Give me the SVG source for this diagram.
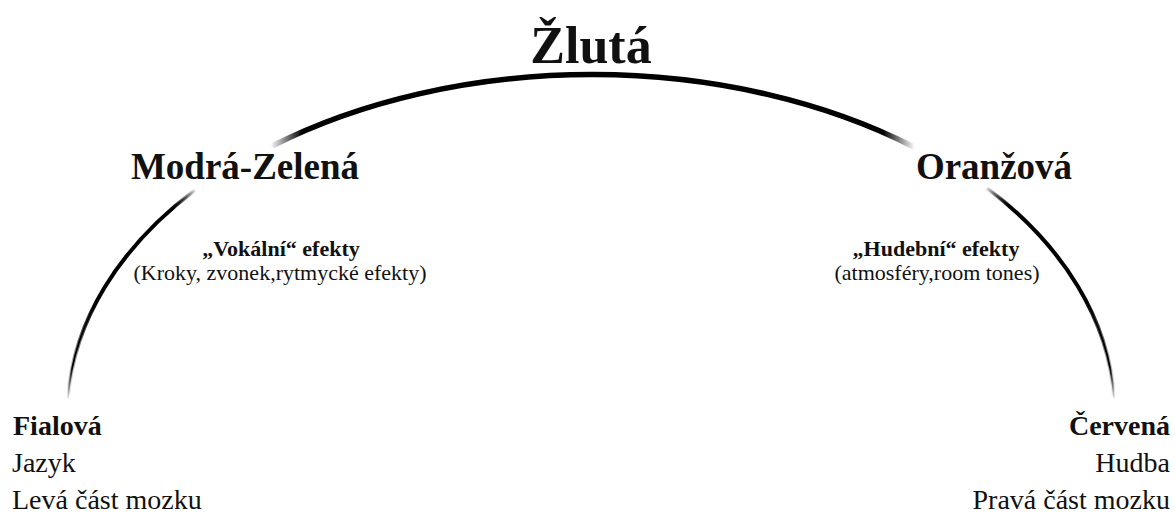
<svg xmlns="http://www.w3.org/2000/svg" width="1175" height="513" viewBox="0 0 1175 513">
<style>
text{font-family:"Liberation Serif","Times New Roman",serif;fill:#111;}
.h{font-weight:bold;font-size:37px;text-anchor:middle;}
.t{font-weight:bold;font-size:52px;text-anchor:middle;}
.sb{font-weight:bold;font-size:22px;text-anchor:middle;}
.sr{font-size:22px;text-anchor:middle;}
.cb{font-weight:bold;font-size:28px;}
.cr{font-size:28px;}
.arc{fill:none;stroke-linecap:butt;}
</style>
<defs>
<linearGradient id="gTop" gradientUnits="userSpaceOnUse" x1="270" y1="0" x2="915" y2="0">
<stop offset="0" stop-color="#000" stop-opacity="0"/>
<stop offset="0.05" stop-color="#000" stop-opacity="1"/>
<stop offset="0.95" stop-color="#000" stop-opacity="1"/>
<stop offset="1" stop-color="#000" stop-opacity="0"/>
</linearGradient>
<linearGradient id="gLa" gradientUnits="userSpaceOnUse" x1="68" y1="398" x2="195" y2="188">
<stop offset="0" stop-color="#000" stop-opacity="0"/>
<stop offset="0.4" stop-color="#000" stop-opacity="1"/>
<stop offset="0.88" stop-color="#000" stop-opacity="1"/>
<stop offset="1" stop-color="#000" stop-opacity="0"/>
</linearGradient>
<linearGradient id="gLb" gradientUnits="userSpaceOnUse" x1="68" y1="398" x2="195" y2="188">
<stop offset="0" stop-color="#000" stop-opacity="0.1"/>
<stop offset="0.12" stop-color="#000" stop-opacity="1"/>
<stop offset="0.88" stop-color="#000" stop-opacity="1"/>
<stop offset="1" stop-color="#000" stop-opacity="0"/>
</linearGradient>
<linearGradient id="gRa" gradientUnits="userSpaceOnUse" x1="1114" y1="398" x2="986" y2="186">
<stop offset="0" stop-color="#000" stop-opacity="0"/>
<stop offset="0.4" stop-color="#000" stop-opacity="1"/>
<stop offset="0.88" stop-color="#000" stop-opacity="1"/>
<stop offset="1" stop-color="#000" stop-opacity="0"/>
</linearGradient>
<linearGradient id="gRb" gradientUnits="userSpaceOnUse" x1="1114" y1="398" x2="986" y2="186">
<stop offset="0" stop-color="#000" stop-opacity="0.1"/>
<stop offset="0.12" stop-color="#000" stop-opacity="1"/>
<stop offset="0.88" stop-color="#000" stop-opacity="1"/>
<stop offset="1" stop-color="#000" stop-opacity="0"/>
</linearGradient>
</defs>
<rect width="1175" height="513" fill="#fff"/>
<g id="connectors">
<path class="arc" d="M272 146 A524 343 0 0 1 914 147" stroke="url(#gTop)" stroke-width="5.5"/>
<path class="arc" d="M68 398 A524 343 0 0 1 195 190" stroke="url(#gLa)" stroke-width="4"/>
<path class="arc" d="M68 398 A524 343 0 0 1 195 190" stroke="url(#gLb)" stroke-width="1.8"/>
<path class="arc" d="M987 188 A524 343 0 0 1 1114 398" stroke="url(#gRa)" stroke-width="4"/>
<path class="arc" d="M987 188 A524 343 0 0 1 1114 398" stroke="url(#gRb)" stroke-width="1.8"/>
</g>
<g id="zluta"><text class="t" x="591" y="63">Žlutá</text></g>
<g id="modra-zelena"><text class="h" x="245" y="179">Modrá-Zelená</text></g>
<g id="oranzova"><text class="h" x="994" y="179">Oranžová</text></g>
<g id="vokalni">
<text class="sb" x="281" y="256">„Vokální“ efekty</text>
<text class="sr" x="280" y="280">(Kroky, zvonek,rytmycké efekty)</text>
</g>
<g id="hudebni">
<text class="sb" x="936" y="256">„Hudební“ efekty</text>
<text class="sr" x="937" y="280">(atmosféry,room tones)</text>
</g>
<g id="fialova">
<text class="cb" x="13" y="435">Fialová</text>
<text class="cr" x="12" y="472">Jazyk</text>
<text class="cr" x="12" y="509">Levá část mozku</text>
</g>
<g id="cervena">
<text class="cb" x="1170" y="435" text-anchor="end">Červená</text>
<text class="cr" x="1170" y="472" text-anchor="end">Hudba</text>
<text class="cr" x="1170" y="509" text-anchor="end">Pravá část mozku</text>
</g>
</svg>
